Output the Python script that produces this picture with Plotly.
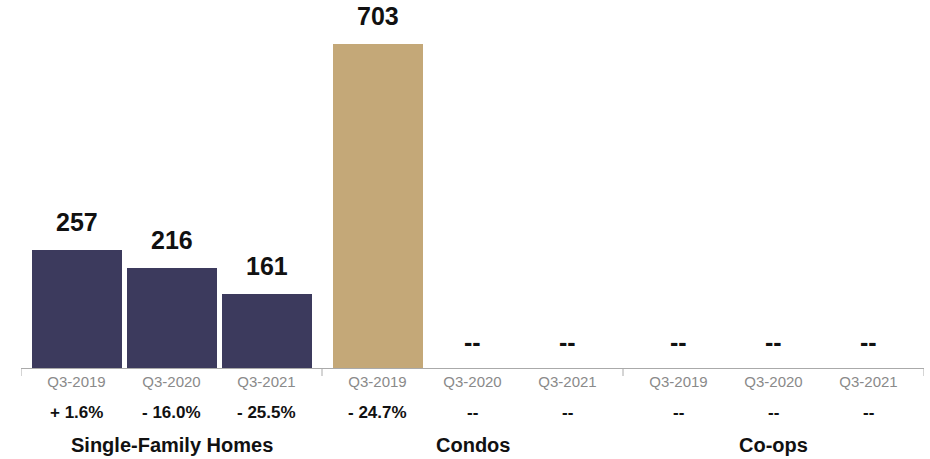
import plotly.graph_objects as go

groups = ["Single-Family Homes", "Condos", "Co-ops"]
periods = ["Q3-2019", "Q3-2020", "Q3-2021"]
sfh_values = [257, 216, 161]
condo_values = [703, None, None]
coop_values = [None, None, None]
sfh_changes = ["+ 1.6%", "- 16.0%", "- 25.5%"]
condo_changes = ["- 24.7%", "--", "--"]
coop_changes = ["--", "--", "--"]

series = [sfh_values, condo_values, coop_values]
changes = [sfh_changes, condo_changes, coop_changes]
colors = ["#3c3a5d", "#c4a878", "#c4a878"]

FONT = "Helvetica, Arial, 'Liberation Sans', sans-serif"
G = 301 / 95.0          # group width in slot units
PAD = (G - 3) / 2.0
BAR_W = 90 / 95.0

fig = go.Figure()
annotations = []
shapes = []
tickvals, ticktext = [], []

for g, (vals, chg, col) in enumerate(zip(series, changes, colors)):
    xs = [g * G + PAD + 0.5 + i for i in range(len(periods))]
    fig.add_trace(go.Bar(
        x=xs, y=[v if v is not None else 0 for v in vals],
        width=BAR_W, marker=dict(color=col, line=dict(width=0)),
        hoverinfo="skip", showlegend=False,
    ))
    for x, v, c, p in zip(xs, vals, chg, periods):
        tickvals.append(x)
        ticktext.append(p)
        annotations.append(dict(
            x=x, y=v if v is not None else 0, xref="x", yref="y",
            text=str(v) if v is not None else "--",
            showarrow=False, yanchor="bottom", yshift=12 if v is not None else 10,
            font=dict(family=FONT, size=25, color="#111111"),
        ))
        annotations.append(dict(
            x=x, y=-0.121, xref="x", yref="paper", text=c, showarrow=False,
            yanchor="middle", font=dict(family=FONT, size=17, color="#111111"),
        ))
    annotations.append(dict(
        x=g * G + G / 2, y=-0.21, xref="x", yref="paper", text=f"<b>{groups[g]}</b>",
        showarrow=False, yanchor="middle", font=dict(family=FONT, size=20, color="#111111"),
    ))

for a in annotations:
    if not a["text"].startswith("<b>"):
        a["text"] = f"<b>{a['text']}</b>"

for g in range(len(groups) + 1):
    shapes.append(dict(type="line", xref="x", yref="paper", x0=g * G, x1=g * G,
                       y0=0, y1=-8 / 368, line=dict(color="#aaaaaa", width=1)))

fig.update_layout(
    width=930, height=459,
    margin=dict(l=21, r=6, t=0, b=91),
    paper_bgcolor="white", plot_bgcolor="white",
    bargap=0,
    xaxis=dict(range=[0, 3 * G], tickvals=tickvals, ticktext=ticktext,
               showgrid=False, zeroline=False, showline=True, linecolor="#aaaaaa",
               linewidth=1, ticks="", tickfont=dict(family=FONT, size=15, color="#8a8a8a"),
               fixedrange=True),
    yaxis=dict(range=[0, 798.5], visible=False, fixedrange=True),
    annotations=annotations, shapes=shapes,
)

fig.write_html("out.html")
